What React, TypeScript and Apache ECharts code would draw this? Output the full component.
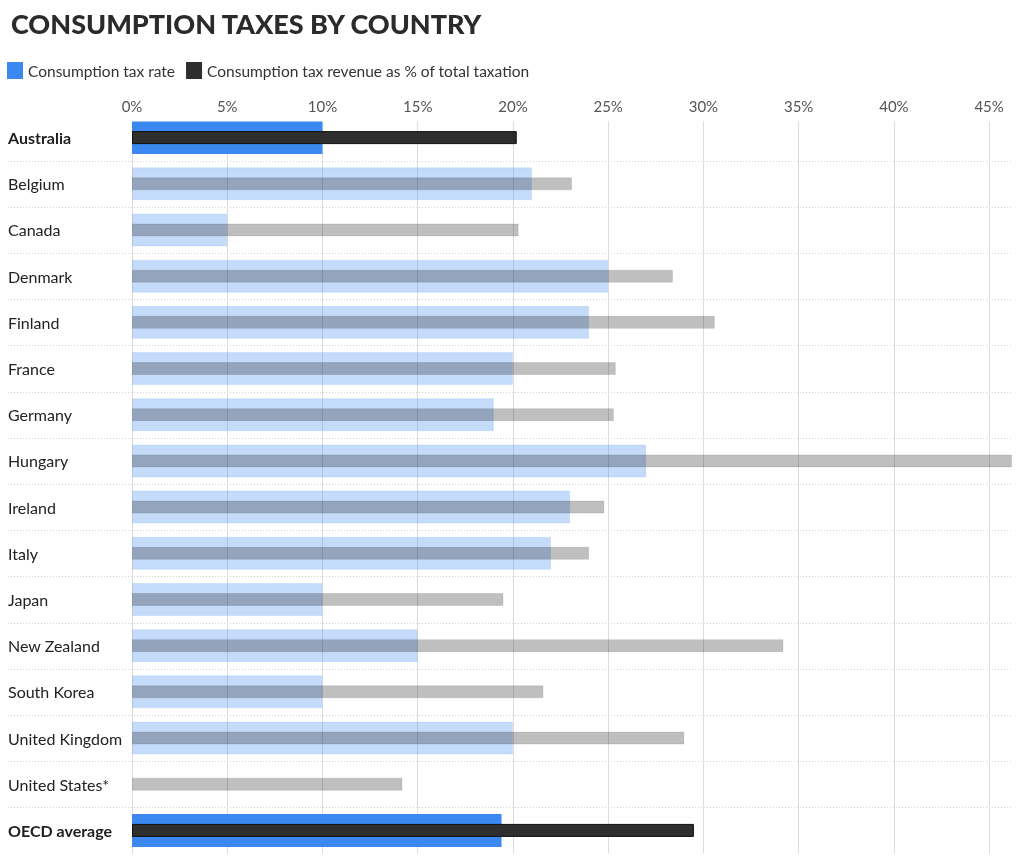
import React, { useEffect, useRef } from "react";
import * as echarts from "echarts";

// Countries, top to bottom
const countries = [
  "Australia",
  "Belgium",
  "Canada",
  "Denmark",
  "Finland",
  "France",
  "Germany",
  "Hungary",
  "Ireland",
  "Italy",
  "Japan",
  "New Zealand",
  "South Korea",
  "United Kingdom",
  "United States*",
  "OECD average",
];

// Standard consumption tax (VAT/GST) rate, %
const taxRate = [10, 21, 5, 25, 24, 20, 19, 27, 23, 22, 10, 15, 10, 20, 0, 19.4];

// Consumption tax revenue as a share of total taxation, %
const revenueShare = [
  20.2, 23.1, 20.3, 28.4, 30.6, 25.4, 25.3, 46.2, 24.8, 24.0, 19.5, 34.2, 21.6,
  29.0, 14.2, 29.5,
];

// Rows drawn in full colour and bold
const highlighted = ["Australia", "OECD average"];

const axisMax = 46.2;
const tickStep = 5;

const FONT = 'Lato, "Noto Sans", "DejaVu Sans", sans-serif';
const BLUE = "#3b89f0";
const BLUE_SOFT = "rgba(59,137,240,0.3)";
const DARK = "#2e2e2e";
const GREY_SOFT = "rgba(0,0,0,0.25)";

const GRID_LEFT = 132;
const GRID_RIGHT = 12;

export default function App() {
  const ref = useRef<HTMLDivElement>(null);

  useEffect(() => {
    if (!ref.current) return;
    const chart = echarts.init(ref.current, null, { renderer: "svg" });
    const isKey = (name: string) => highlighted.includes(name);

    chart.setOption({
      animation: false,
      textStyle: { fontFamily: FONT },
      title: {
        text: "CONSUMPTION TAXES BY COUNTRY",
        left: 6,
        top: 5,
        textStyle: {
          fontFamily: FONT,
          fontSize: 27,
          fontWeight: 900,
          color: "#2b2b2b",
        },
      },
      legend: {
        left: 7,
        top: 62,
        padding: 0,
        icon: "rect",
        itemWidth: 16,
        itemHeight: 17,
        itemGap: 11,
        selectedMode: false,
        textStyle: { fontFamily: FONT, fontSize: 15.5, color: "#333" },
        data: [
          "Consumption tax rate",
          "Consumption tax revenue as % of total taxation",
        ],
      },
      grid: {
        left: GRID_LEFT,
        right: GRID_RIGHT,
        top: 114.5,
        bottom: 11.5,
        outerBoundsMode: "none",
        containLabel: false,
      },
      xAxis: {
        type: "value",
        position: "top",
        min: 0,
        max: axisMax,
        interval: tickStep,
        axisLine: { show: false },
        axisTick: { show: false },
        axisLabel: {
          color: "#555",
          fontSize: 15,
          margin: 1,
          formatter: (v: number) => (v % tickStep === 0 ? `${v}%` : ""),
        },
        splitLine: {
          show: true,
          showMaxLine: false,
          lineStyle: { color: "#dcdcdc", width: 1 },
        },
      },
      yAxis: [
        {
          type: "category",
          inverse: true,
          data: countries.map((c) =>
            isKey(c)
              ? { value: c, textStyle: { fontWeight: "bold", align: "left" } }
              : c
          ),
          axisLine: { show: false },
          axisTick: { show: false },
          axisLabel: {
            align: "left",
            margin: GRID_LEFT - 8,
            fontSize: 16,
            color: "#222",
          },
          splitLine: { show: false },
        },
        {
          type: "category",
          inverse: true,
          data: countries,
          show: false,
        },
      ],
      series: [
        {
          name: "Consumption tax rate",
          type: "bar",
          yAxisIndex: 0,
          barWidth: 33,
          itemStyle: { color: BLUE },
          data: taxRate.map((v, i) => ({
            value: v,
            itemStyle: isKey(countries[i])
              ? { color: BLUE }
              : {
                  color: BLUE_SOFT,
                  borderColor: "rgba(59,137,240,0.12)",
                  borderWidth: v > 0 ? 1 : 0,
                },
          })),
        },
        {
          name: "Consumption tax revenue as % of total taxation",
          type: "bar",
          yAxisIndex: 1,
          barWidth: 13,
          itemStyle: { color: DARK },
          data: revenueShare.map((v, i) => ({
            value: v,
            itemStyle: isKey(countries[i])
              ? { color: DARK, borderColor: "#111", borderWidth: 1 }
              : {
                  color: GREY_SOFT,
                  borderColor: "rgba(0,0,0,0.1)",
                  borderWidth: 1,
                },
          })),
        },
      ],
    });

    // Dotted row separators run the full width, through the label column,
    // so they are placed from the category axis positions.
    const width = chart.getWidth();
    const y0 = chart.convertToPixel({ yAxisIndex: 0 }, countries[0]) as number;
    const y1 = chart.convertToPixel({ yAxisIndex: 0 }, countries[1]) as number;
    const band = y1 - y0;
    const separators = countries.slice(1).map((c) => {
      const y =
        Math.round((chart.convertToPixel({ yAxisIndex: 0 }, c) as number) - band / 2) + 0.5;
      return {
        type: "line",
        silent: true,
        z: -1,
        shape: { x1: 8, y1: y, x2: width - GRID_RIGHT, y2: y },
        style: { stroke: "#d2d2d2", lineWidth: 1, lineDash: [1, 2] },
      };
    });
    const gridTop = y0 - band / 2;
    chart.setOption({
      graphic: [
        ...separators,
        {
          // keeps the vertical grid lines from rising above the first bar
          type: "rect",
          silent: true,
          z: 100,
          shape: { x: GRID_LEFT - 6, y: gridTop - 1, width: width, height: 8 },
          style: { fill: "#fff" },
        },
      ],
    });

    return () => chart.dispose();
  }, []);

  return (
    <div
      ref={ref}
      style={{ position: "fixed", left: 0, top: 0, width: 1024, height: 865 }}
    />
  );
}
